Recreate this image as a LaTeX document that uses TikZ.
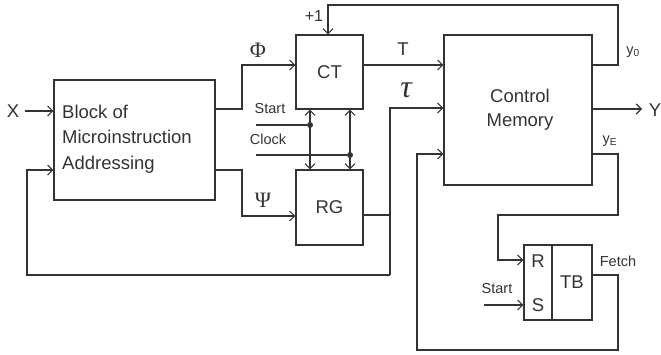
\documentclass[tikz,border=0pt]{standalone}
\usepackage{fontspec}
\setmainfont{Liberation Sans}
\newfontfamily\grk{Liberation Serif}
\usetikzlibrary{arrows.meta}
\definecolor{ink}{HTML}{333333}
\tikzset{
  wire/.style={draw=ink, line width=1.2pt},
  arr/.style={wire, -{Straight Barb[length=5pt,width=10pt,line width=1.1pt]}},
  darr/.style={wire, {Straight Barb[length=5pt,width=10pt,line width=1.1pt]}-{Straight Barb[length=5pt,width=10pt,line width=1.1pt]}},
  blk/.style={draw=ink, line width=1.2pt, inner sep=0pt, text=ink, font=\fontsize{18.5}{25.5}\selectfont},
  big/.style={text=ink, inner sep=0pt, font=\fontsize{18.5}{22}\selectfont},
  small/.style={text=ink, inner sep=0pt, font=\fontsize{14.5}{17}\selectfont},
  greek/.style={text=ink, inner sep=0pt, font=\grk\fontsize{22}{26}\selectfont},
  dot/.style={circle, fill=ink, inner sep=0pt, minimum size=6pt}
}
\begin{document}
\begin{tikzpicture}[x=1pt, y=-1pt]
\useasboundingbox (0,0) rectangle (661,354);
% blocks
\node[blk, minimum width=161pt, minimum height=120pt] (BMA) at (134.5,140) {};
\node[big, anchor=west, align=left, font=\fontsize{18.5}{25.5}\selectfont] (BMAt) at (62,139) {Block of\\Microinstruction\\Addressing};
\node[blk, minimum width=67pt, minimum height=74pt] (CT) at (329.5,72) {CT};
\node[blk, minimum width=67pt, minimum height=75pt] (RG) at (329.5,207.5) {RG};
\node[blk, minimum width=148pt, minimum height=150pt] (CM) at (518,110) {};
\node[big, align=center, font=\fontsize{18.5}{24}\selectfont] (CMt) at (520,110) {Control\\Memory};
\node[blk, minimum width=28pt, minimum height=75pt] (TBl) at (538,282.5) {};
\node[blk, minimum width=40pt, minimum height=75pt] (TBr) at (572,282.5) {TB};
\node[big] (R) at (538,261) {R};
\node[big] (S) at (538,305) {S};
% X input
\node[big] (X) at (13,111) {X};
\draw[arr] (X.east) ++(6,0) -- (BMA.west |- 0,111);
% Phi
\draw[arr] (BMA.east |- 0,109) -- (242,109) -- (242,65) -- (CT.west |- 0,65);
\node[greek] (Phi) at (258,50) {Φ};
% Psi
\draw[arr] (BMA.east |- 0,170) -- (242,170) -- (242,216) -- (RG.west |- 0,216);
\node[greek] (Psi) at (263,200) {Ψ};
% Start / Clock
\node[small] (st1) at (270,109) {Start};
\node[small] (clk) at (268,139) {Clock};
\coordinate (sS) at (256,125);
\coordinate (sC) at (256,155);
\node[dot] (d1) at (310,125) {};
\node[dot] (d2) at (350,155) {};
\draw[wire] (sS) -- (d1);
\draw[wire] (sC) -- (d2);
\draw[darr] (CT.south -| d1) -- (RG.north -| d1);
\draw[darr] (CT.south -| d2) -- (RG.north -| d2);
% +1 feedback from y0
\draw[arr] (CM.east |- 0,65) -- (618,65) -- (618,5) -- (328,5) -- (CT.north -| 328,0);
\node[small, font=\fontsize{16}{18}\selectfont] (p1) at (314,16) {+1};
\node[small] (y0) at (633,52) {y\textsubscript{0}};
% T
\draw[arr] (CT.east |- 0,65) -- (CM.west |- 0,65);
\node[big] (T) at (403,49) {T};
% tau and loop back
\draw[wire] (RG.east |- 0,215) -- (390,215);
\draw[arr] (390,275) -- (390,108) -- (CM.west |- 0,108);
\draw[arr] (390,275) -- (27,275) -- (27,170) -- (BMA.west |- 0,170);
\node[text=ink, inner sep=0pt, font=\grk\itshape\fontsize{32}{34}\selectfont] (tau) at (406,90) {τ};
% Y output
\draw[arr] (CM.east |- 0,109) -- (642,109);
\node[big] (Y) at (655,110) {Y};
% yE to R
\draw[arr] (CM.east |- 0,154) -- (618,154) -- (618,215) -- (498,215) -- (498,260) -- (TBl.west |- 0,260);
\node[small] (yE) at (610,141) {y\textsubscript{E}};
% Start to S
\draw[arr] (484,305) -- (TBl.west |- 0,305);
\node[small] (st2) at (497,289) {Start};
% Fetch loop
\draw[arr] (TBr.east |- 0,275) -- (618,275) -- (618,350) -- (417,350) -- (417,154) -- (CM.west |- 0,154);
\node[small] (fetch) at (618,261) {Fetch};
\end{tikzpicture}
\end{document}
